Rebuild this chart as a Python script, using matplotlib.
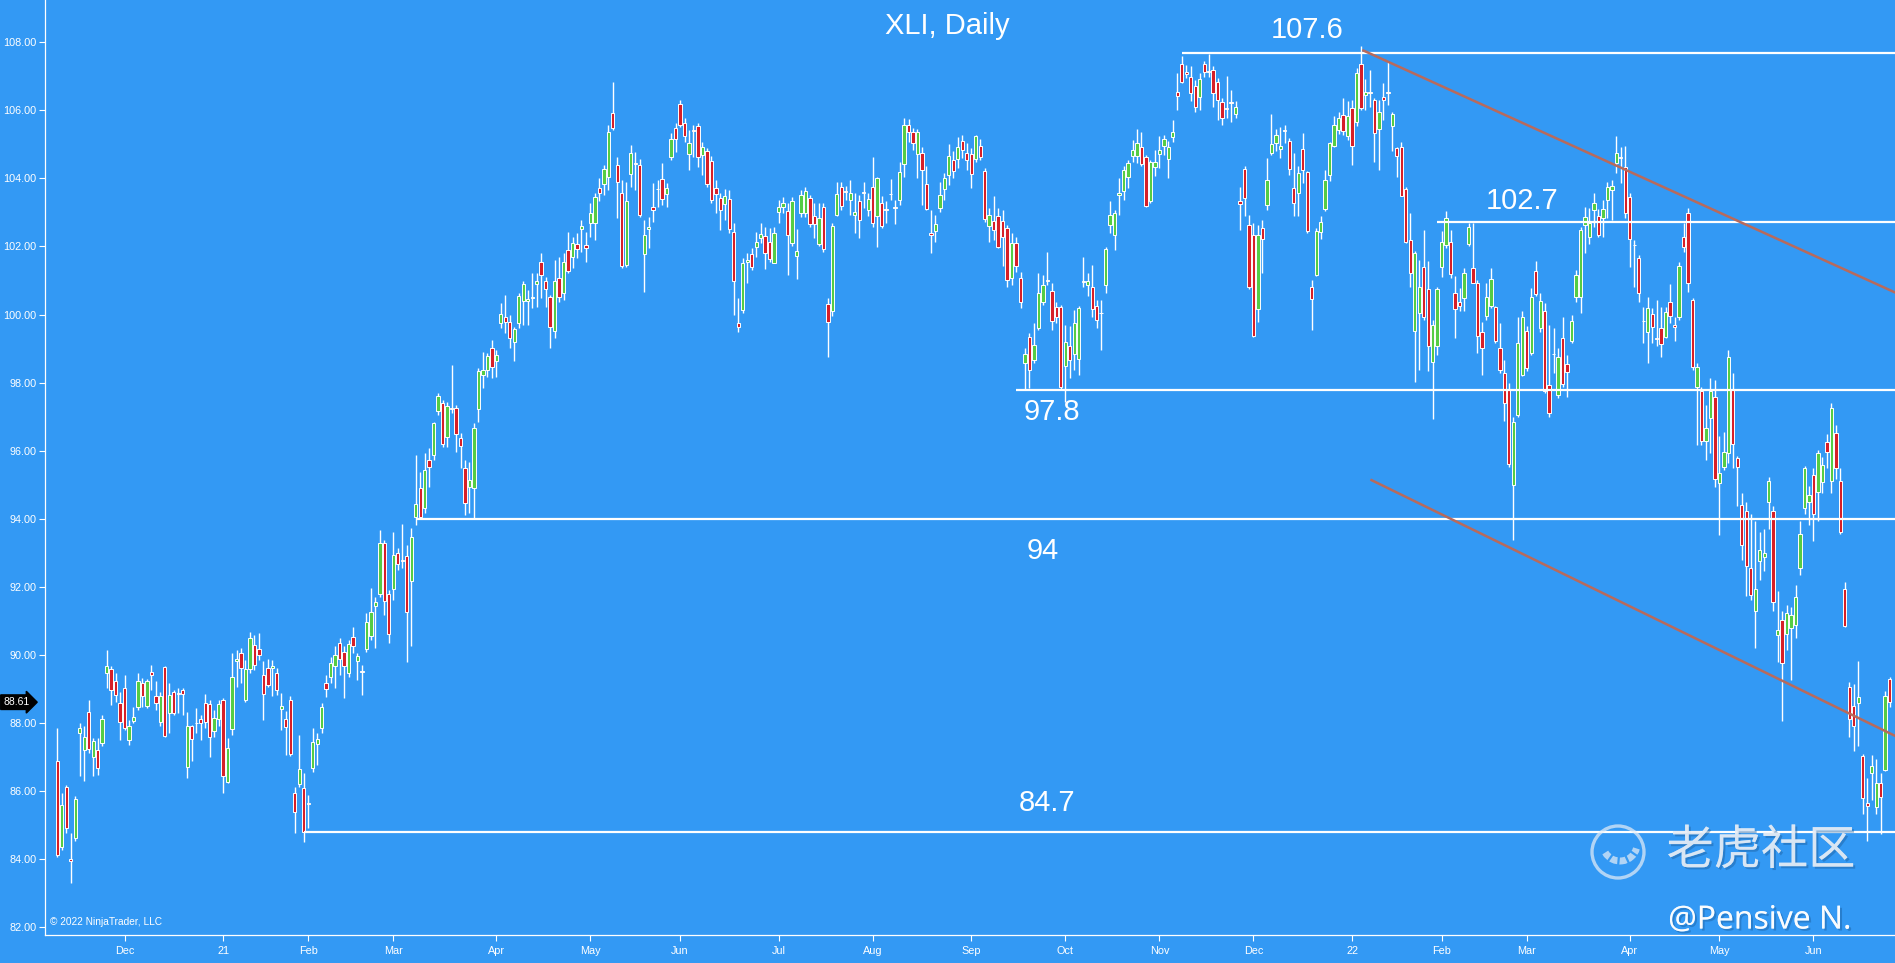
import numpy as np
import pandas as pd
import matplotlib
matplotlib.use("Agg")
import matplotlib.pyplot as plt
import matplotlib.transforms as mtransforms
import matplotlib.patheffects as pe
from matplotlib.patches import Circle, Arc

# XLI daily candles, 2020-11-09 .. 2022-06-27
opens = [
    86.87, 84.37, 86.13, 84.00, 84.62, 87.70, 87.21, 88.31, 87.01, 87.21,
    87.41, 89.46, 89.58, 89.22, 88.60, 89.02, 87.50, 88.06, 88.46, 89.17,
    88.50, 89.51, 88.78, 88.04, 89.64, 88.29, 88.92, 88.88, 88.97, 86.72,
    87.90, 87.99, 88.11, 88.58, 88.56, 87.75, 88.11, 88.68, 86.26, 87.82,
    89.81, 90.05, 88.68, 89.58, 90.30, 90.17, 89.41, 89.61, 89.61, 89.46,
    88.40, 88.11, 88.68, 85.94, 86.21, 86.08, 85.66, 86.67, 87.39, 87.84,
    89.17, 89.34, 89.68, 90.36, 90.07, 89.48, 90.52, 89.82, 89.53, 90.17,
    90.54, 91.44, 91.79, 93.28, 91.78, 91.93, 93.00, 92.79, 92.91, 92.18,
    94.06, 94.89, 94.31, 95.73, 95.87, 97.17, 97.41, 96.39, 97.26, 97.26,
    96.36, 95.48, 94.92, 94.89, 97.21, 98.22, 98.37, 99.01, 98.63, 99.76,
    99.92, 99.79, 99.18, 99.74, 100.41, 100.41, 100.48, 100.90, 101.53, 100.99,
    100.50, 99.53, 101.06, 100.62, 101.90, 101.70, 102.07, 102.50, 102.04, 102.70,
    102.68, 103.71, 103.83, 104.03, 105.93, 104.39, 103.58, 101.45, 104.13, 104.46,
    104.39, 101.78, 102.52, 103.15, 103.70, 103.97, 103.54, 104.64, 105.47, 106.18,
    105.64, 104.72, 105.41, 105.55, 104.69, 104.81, 104.51, 103.71, 103.41, 103.25,
    103.38, 102.43, 99.74, 100.13, 101.55, 101.78, 101.97, 102.24, 102.31, 102.14,
    101.52, 103.02, 103.17, 103.05, 102.09, 101.72, 102.97, 102.97, 103.41, 102.90,
    102.07, 103.17, 100.30, 100.09, 102.93, 103.76, 103.62, 103.35, 102.93, 103.32,
    103.59, 103.07, 103.76, 102.88, 103.29, 103.10, 103.55, 103.15, 103.35, 104.42,
    105.57, 105.35, 104.72, 104.74, 103.84, 102.39, 102.44, 103.12, 103.68, 104.10,
    104.54, 104.56, 105.11, 104.74, 104.72, 104.56, 104.95, 104.23, 102.60, 102.76,
    102.89, 102.76, 102.53, 101.07, 102.11, 101.07, 98.57, 99.35, 98.67, 99.60,
    100.38, 101.00, 100.68, 100.23, 100.21, 98.49, 99.06, 98.84, 98.69, 100.98,
    100.87, 100.82, 100.25, 100.05, 100.87, 102.63, 102.34, 103.51, 103.64, 104.05,
    104.66, 104.66, 104.91, 104.62, 103.32, 104.33, 104.72, 104.95, 104.56, 105.21,
    106.55, 107.36, 107.11, 106.97, 106.72, 106.38, 107.36, 107.15, 107.17, 106.84,
    106.23, 106.07, 106.24, 105.89, 103.34, 104.27, 102.63, 102.34, 100.16, 102.53,
    103.22, 104.74, 105.05, 104.86, 105.41, 105.11, 103.71, 103.56, 104.86, 104.20,
    100.82, 101.17, 102.41, 103.09, 104.10, 104.95, 105.42, 105.87, 105.23, 106.06,
    105.67, 107.36, 106.45, 106.55, 106.29, 105.44, 106.38, 106.55, 105.54, 104.88,
    104.93, 103.68, 102.19, 99.53, 100.04, 101.39, 100.74, 98.59, 99.06, 101.39,
    102.05, 102.14, 100.63, 100.38, 100.48, 102.08, 101.36, 100.94, 99.50, 99.96,
    100.24, 100.22, 99.01, 98.28, 97.81, 95.00, 97.05, 98.23, 99.53, 98.88,
    101.27, 99.60, 100.09, 97.93, 98.85, 97.64, 99.30, 98.55, 99.21, 100.51,
    100.51, 102.63, 102.29, 103.07, 102.88, 102.83, 103.35, 103.66, 104.44, 104.63,
    104.33, 103.45, 102.05, 101.65, 99.82, 99.50, 100.02, 99.31, 99.60, 99.35,
    100.38, 99.68, 99.94, 102.29, 102.98, 100.43, 97.86, 97.74, 96.27, 96.95,
    97.59, 95.06, 95.53, 95.92, 97.80, 95.78, 94.41, 94.22, 92.54, 91.30,
    92.77, 92.88, 94.50, 94.24, 90.59, 91.01, 90.62, 90.80, 90.88, 92.54,
    94.32, 94.50, 95.29, 94.79, 95.08, 96.25, 95.10, 96.53, 95.10, 91.95,
    89.05, 88.49, 88.59, 87.02, 85.66, 86.53, 85.53, 86.24, 86.63, 89.29,
]
highs = [
    87.85, 85.94, 86.18, 84.76, 85.84, 87.99, 87.90, 88.68, 87.55, 87.55,
    88.24, 90.15, 89.66, 89.46, 88.92, 89.41, 88.09, 88.48, 89.46, 89.32,
    89.29, 89.71, 89.22, 88.92, 89.68, 89.17, 88.97, 89.02, 89.02, 88.31,
    87.95, 88.43, 88.24, 88.86, 88.68, 88.39, 88.68, 88.73, 87.55, 90.05,
    90.15, 90.20, 89.86, 90.66, 90.59, 90.64, 89.81, 89.87, 89.85, 89.61,
    88.87, 88.34, 88.78, 86.13, 87.65, 86.52, 85.89, 87.85, 87.70, 88.60,
    89.41, 89.95, 90.25, 90.49, 90.25, 90.44, 90.83, 90.05, 89.70, 91.22,
    91.96, 91.71, 93.67, 93.38, 91.91, 93.62, 93.13, 93.85, 93.23, 93.72,
    95.87, 95.38, 95.92, 96.07, 96.85, 97.69, 97.49, 97.44, 98.52, 97.34,
    96.51, 95.73, 95.68, 96.80, 98.42, 98.91, 98.88, 99.25, 98.96, 100.35,
    100.57, 99.99, 99.64, 100.62, 100.97, 100.72, 101.21, 101.23, 101.80, 101.11,
    100.57, 101.60, 101.70, 101.80, 102.41, 102.29, 102.39, 102.78, 102.43, 103.27,
    103.56, 104.00, 104.39, 105.57, 106.84, 104.64, 103.95, 103.90, 104.98, 104.78,
    104.56, 102.78, 102.87, 103.85, 103.95, 104.46, 103.85, 105.32, 105.62, 106.30,
    105.76, 105.42, 105.57, 105.62, 105.08, 104.88, 104.66, 103.95, 103.56, 103.68,
    103.66, 102.68, 100.48, 101.65, 101.82, 101.94, 102.43, 102.70, 102.58, 102.53,
    102.58, 103.37, 103.46, 103.27, 103.46, 102.50, 103.66, 103.74, 103.51, 103.27,
    103.27, 103.27, 100.48, 102.70, 103.90, 103.90, 103.78, 103.94, 103.56, 103.51,
    103.88, 103.56, 104.64, 104.05, 103.47, 103.32, 103.97, 103.37, 104.49, 105.77,
    105.74, 105.47, 105.44, 104.93, 104.37, 103.07, 102.93, 103.90, 104.15, 105.01,
    104.79, 105.21, 105.28, 105.03, 104.89, 105.28, 105.15, 104.30, 103.12, 103.47,
    103.12, 103.07, 102.63, 102.39, 102.29, 101.26, 99.01, 99.45, 99.74, 101.21,
    101.16, 101.85, 100.94, 100.38, 100.28, 99.70, 99.65, 100.14, 100.25, 101.70,
    101.21, 101.46, 100.43, 100.43, 101.99, 103.32, 103.07, 104.00, 104.35, 104.54,
    105.13, 105.44, 105.37, 104.69, 104.54, 104.84, 105.23, 105.28, 105.11, 105.72,
    107.09, 107.60, 107.33, 107.30, 106.89, 107.09, 107.46, 107.66, 107.29, 106.94,
    106.35, 107.01, 106.60, 106.26, 103.76, 104.35, 102.93, 102.70, 102.63, 102.78,
    104.59, 105.89, 105.44, 105.50, 105.57, 105.18, 104.74, 104.37, 105.33, 104.23,
    101.00, 102.54, 102.88, 104.25, 105.08, 105.84, 105.96, 106.35, 106.26, 106.31,
    107.24, 107.89, 106.91, 107.19, 106.35, 106.31, 106.81, 107.43, 105.96, 104.93,
    105.08, 103.76, 102.98, 101.88, 101.60, 102.49, 101.56, 99.84, 100.82, 102.44,
    103.05, 102.49, 101.12, 100.77, 101.36, 102.70, 102.70, 101.02, 99.79, 100.92,
    101.36, 100.24, 99.74, 98.67, 97.98, 97.00, 99.94, 100.09, 99.65, 100.77,
    101.56, 100.63, 100.33, 99.70, 99.60, 99.01, 99.94, 98.81, 99.99, 101.31,
    102.58, 103.17, 103.12, 103.56, 103.09, 103.35, 103.88, 103.95, 105.23, 104.93,
    104.95, 103.56, 102.19, 101.75, 100.23, 100.51, 100.18, 100.43, 100.23, 100.23,
    100.90, 99.94, 101.55, 102.68, 103.12, 100.48, 98.57, 97.88, 97.34, 98.13,
    98.08, 96.42, 96.56, 98.96, 98.27, 95.83, 94.75, 94.50, 94.14, 93.93,
    93.61, 93.71, 95.24, 94.37, 91.88, 91.30, 91.46, 91.41, 92.04, 93.92,
    95.55, 94.97, 95.50, 96.02, 95.81, 96.50, 97.39, 96.76, 95.50, 92.14,
    89.20, 89.15, 89.81, 87.10, 86.39, 87.05, 86.95, 86.53, 88.94, 89.36,
]
lows = [
    84.06, 84.27, 84.76, 83.29, 84.52, 86.43, 86.28, 87.11, 86.43, 86.48,
    87.31, 89.02, 88.53, 88.63, 87.50, 87.80, 87.36, 87.99, 88.39, 88.48,
    88.43, 88.97, 88.39, 87.90, 87.58, 87.70, 88.24, 88.29, 88.24, 86.38,
    86.87, 87.70, 87.50, 87.85, 87.01, 87.60, 87.90, 85.94, 86.23, 87.65,
    89.07, 89.17, 88.63, 89.46, 89.56, 89.86, 88.09, 89.07, 88.78, 88.82,
    87.80, 87.06, 87.03, 84.76, 86.13, 84.49, 84.91, 86.57, 86.77, 87.70,
    88.76, 89.17, 89.02, 89.41, 88.73, 89.36, 90.05, 89.27, 88.82, 90.07,
    90.44, 90.20, 91.71, 91.18, 90.34, 91.62, 92.50, 92.55, 89.80, 90.25,
    93.82, 94.01, 94.16, 94.94, 95.73, 97.05, 96.12, 96.12, 97.10, 95.97,
    95.48, 94.11, 94.16, 94.01, 96.85, 97.83, 98.17, 98.13, 98.17, 99.59,
    99.45, 99.01, 98.62, 99.59, 99.69, 99.69, 100.18, 100.23, 100.48, 100.23,
    99.01, 99.30, 100.38, 100.43, 101.21, 101.36, 101.65, 101.85, 101.55, 102.29,
    102.19, 103.32, 103.51, 103.66, 105.42, 102.83, 101.36, 101.40, 103.76, 103.66,
    102.87, 100.67, 101.94, 102.73, 103.17, 103.22, 103.17, 104.54, 104.78, 105.52,
    105.08, 104.25, 104.64, 104.34, 104.10, 103.76, 103.27, 102.97, 102.48, 102.78,
    102.40, 99.99, 99.50, 100.04, 100.92, 101.31, 101.70, 102.09, 101.33, 101.55,
    101.50, 102.68, 102.97, 101.16, 102.00, 101.03, 102.87, 102.87, 102.58, 102.24,
    102.00, 101.85, 98.76, 99.96, 102.88, 103.07, 103.37, 102.93, 102.39, 102.24,
    103.12, 102.88, 102.58, 101.99, 102.53, 102.68, 103.37, 102.66, 103.22, 104.05,
    105.08, 104.84, 104.00, 103.22, 103.07, 101.80, 102.14, 103.02, 103.37, 103.81,
    104.00, 104.30, 104.59, 104.25, 103.71, 104.49, 104.54, 102.73, 102.14, 102.19,
    101.95, 101.43, 100.82, 100.87, 101.26, 100.19, 97.79, 97.83, 98.57, 99.55,
    100.28, 100.87, 99.55, 99.74, 97.79, 97.44, 98.13, 98.37, 98.23, 100.82,
    100.53, 99.94, 99.60, 98.96, 100.62, 102.39, 101.90, 102.93, 103.37, 103.71,
    104.49, 104.44, 104.35, 103.15, 103.27, 104.07, 104.30, 104.69, 104.00, 105.08,
    106.01, 106.80, 106.94, 106.26, 105.96, 106.01, 106.99, 106.99, 106.11, 105.72,
    105.57, 105.77, 105.67, 105.77, 102.49, 102.88, 100.74, 99.35, 99.79, 101.21,
    103.07, 104.69, 104.79, 104.59, 105.03, 104.10, 102.88, 102.88, 103.86, 102.39,
    99.55, 101.14, 102.21, 103.05, 103.91, 104.91, 105.31, 105.28, 105.13, 104.40,
    105.54, 106.01, 106.01, 106.11, 104.49, 104.25, 105.72, 106.16, 104.79, 104.05,
    103.47, 102.10, 100.82, 98.03, 98.37, 99.84, 98.33, 96.93, 98.81, 101.10,
    101.95, 101.07, 99.31, 100.09, 100.09, 102.00, 100.92, 98.86, 98.23, 99.84,
    100.19, 99.16, 98.28, 96.86, 95.51, 93.37, 97.00, 98.18, 98.33, 98.81,
    100.53, 99.50, 97.69, 97.00, 98.28, 97.54, 97.88, 97.59, 99.16, 100.38,
    100.04, 101.80, 102.07, 102.58, 102.27, 102.29, 102.83, 102.78, 104.15, 103.86,
    102.83, 101.41, 100.82, 100.38, 99.16, 98.57, 99.16, 99.06, 98.74, 99.30,
    99.74, 99.21, 99.84, 101.85, 100.67, 98.37, 96.17, 96.17, 95.73, 95.92,
    94.94, 93.53, 95.43, 95.63, 95.48, 94.36, 92.79, 91.72, 91.62, 90.20,
    92.19, 92.46, 93.71, 91.30, 89.78, 88.05, 90.15, 89.26, 90.51, 92.35,
    94.13, 93.82, 93.35, 93.93, 94.76, 95.50, 94.76, 95.18, 93.56, 90.83,
    87.58, 87.19, 87.31, 85.32, 84.54, 85.74, 85.32, 84.74, 86.58, 88.47,
]
closes = [
    84.13, 85.60, 84.91, 83.93, 85.77, 87.85, 87.60, 87.23, 87.46, 86.67,
    88.11, 89.66, 88.97, 88.83, 88.04, 87.85, 87.92, 88.17, 89.22, 88.80,
    89.22, 89.41, 88.58, 88.78, 87.62, 88.83, 88.29, 88.84, 88.86, 87.92,
    87.53, 88.01, 87.99, 88.04, 87.60, 88.14, 88.56, 86.43, 87.26, 89.35,
    89.87, 89.61, 89.58, 90.49, 89.71, 90.00, 88.86, 89.12, 89.68, 88.97,
    88.51, 87.89, 87.09, 85.37, 86.64, 84.81, 85.62, 87.45, 87.52, 88.46,
    88.99, 89.76, 90.00, 89.87, 89.68, 90.32, 90.25, 89.97, 89.49, 90.98,
    91.27, 91.54, 93.28, 91.59, 90.61, 92.94, 92.67, 92.75, 91.27, 93.46,
    94.42, 94.06, 95.43, 95.51, 96.80, 97.61, 96.20, 97.31, 97.21, 96.49,
    96.14, 94.45, 95.14, 96.66, 98.34, 98.37, 98.78, 98.47, 98.81, 100.02,
    99.79, 99.30, 99.56, 100.54, 100.90, 100.45, 100.52, 100.97, 101.16, 100.74,
    99.63, 100.97, 100.51, 101.55, 101.29, 102.11, 101.92, 102.61, 101.94, 102.99,
    103.44, 103.56, 104.27, 105.37, 105.47, 103.90, 101.43, 103.32, 104.74, 104.42,
    102.92, 102.34, 102.56, 103.07, 103.68, 103.38, 103.71, 105.15, 105.15, 105.57,
    105.23, 105.05, 105.39, 104.62, 104.91, 103.83, 103.35, 103.54, 103.07, 103.48,
    102.50, 100.97, 99.62, 101.50, 101.59, 101.39, 102.14, 102.37, 101.82, 101.62,
    102.40, 103.15, 103.29, 102.34, 103.32, 101.88, 103.51, 103.64, 102.66, 102.66,
    102.83, 101.92, 99.79, 102.60, 103.54, 103.19, 103.60, 103.56, 103.00, 102.78,
    103.57, 103.39, 102.68, 104.00, 102.60, 103.08, 103.53, 103.13, 104.20, 105.57,
    105.37, 105.05, 105.37, 104.25, 103.09, 102.35, 102.66, 103.51, 104.00, 104.66,
    104.23, 104.91, 104.84, 104.54, 104.13, 105.23, 104.62, 102.80, 102.93, 102.47,
    101.99, 102.27, 101.02, 102.11, 101.43, 100.38, 98.84, 98.37, 99.11, 100.64,
    100.87, 100.98, 99.82, 99.92, 97.86, 99.18, 98.67, 99.74, 100.18, 100.96,
    100.97, 100.16, 99.84, 100.03, 101.92, 102.93, 102.97, 103.58, 104.25, 104.44,
    104.84, 105.05, 104.42, 103.19, 104.49, 104.49, 104.82, 105.15, 104.91, 105.37,
    106.42, 106.84, 107.07, 106.52, 106.09, 106.91, 107.11, 107.13, 106.50, 106.29,
    105.77, 106.05, 106.22, 106.09, 103.25, 103.42, 100.80, 99.37, 102.34, 102.21,
    103.96, 105.01, 105.28, 104.95, 105.39, 104.27, 103.29, 104.17, 104.25, 102.44,
    100.45, 102.44, 102.73, 103.96, 105.03, 105.57, 105.77, 105.38, 105.82, 104.95,
    107.09, 106.06, 106.55, 106.50, 105.33, 105.96, 106.30, 106.50, 105.89, 104.66,
    103.49, 102.14, 101.21, 101.80, 100.80, 99.92, 99.06, 99.70, 100.74, 102.14,
    102.83, 101.19, 100.16, 100.24, 101.21, 102.58, 100.94, 99.37, 99.01, 100.51,
    101.04, 99.21, 98.37, 97.41, 95.61, 96.83, 99.16, 99.94, 98.42, 100.51,
    100.61, 100.41, 97.74, 97.12, 98.83, 98.75, 97.96, 98.30, 99.82, 101.16,
    102.49, 102.86, 102.70, 103.29, 102.34, 103.09, 103.74, 103.78, 104.74, 104.61,
    102.99, 102.21, 102.03, 100.62, 99.80, 100.18, 99.64, 99.29, 99.14, 100.06,
    99.96, 99.62, 101.43, 101.98, 100.92, 98.45, 98.45, 96.27, 96.66, 97.74,
    95.16, 95.34, 95.97, 98.76, 96.20, 95.53, 93.23, 92.61, 91.77, 91.93,
    93.09, 92.98, 95.10, 91.56, 90.73, 89.75, 91.22, 91.18, 91.70, 93.56,
    95.50, 94.71, 94.13, 95.92, 95.58, 95.97, 97.26, 95.50, 93.61, 90.86,
    88.13, 87.92, 88.76, 85.79, 85.55, 86.74, 86.24, 85.82, 88.80, 88.61,
]

holidays = ["2020-11-26", "2020-12-25", "2021-01-01", "2021-01-18", "2021-02-15",
            "2021-04-02", "2021-05-31", "2021-07-05", "2021-09-06", "2021-11-25",
            "2021-12-24", "2022-01-17", "2022-02-21", "2022-04-15", "2022-05-30",
            "2022-06-20"]
dates = pd.bdate_range("2020-11-09", "2022-06-27", freq="C", holidays=holidays)

# drawn levels: price, label, first bar, label position (bar, price)
levels = [107.67, 102.73, 97.79, 93.98, 84.81]
level_labels = ["107.6", "102.7", "97.8", "94", "84.7"]
level_start = [251, 308, 214, 80, 55]
label_x = [279, 327, 222, 220, 221]
label_y = [108.36, 103.33, 97.13, 93.05, 85.66]

# channel lines (bar, price) endpoints
upper_x, upper_y = [291.3, 411], [107.77, 100.60]
lower_x, lower_y = [293.1, 411], [95.15, 87.57]

last_price = 88.61

bg = "#3399f4"
green = "#55cc45"
red = "#d61f28"
trend_col = "#b86a5c"

O = np.array(opens)
H = np.array(highs)
L = np.array(lows)
C = np.array(closes)
n = len(C)
x = np.arange(n)

fig = plt.figure(figsize=(18.95, 9.63), dpi=100, facecolor=bg)
ax = fig.add_axes([45 / 1895, 28 / 963, 1850 / 1895, 935 / 963])
ax.set_facecolor(bg)

ax.vlines(x, L, H, color="white", lw=1.0, zorder=2)
body_col = np.where(C >= O, green, red)
ax.bar(x, np.abs(C - O), bottom=np.minimum(O, C), width=0.74, color=body_col,
       edgecolor="white", linewidth=0.7, zorder=3)

for lv, st in zip(levels, level_start):
    ax.hlines(lv, st, n + 1, color="white", lw=1.6, zorder=4)
for t, lx, ly in zip(level_labels, label_x, label_y):
    ax.text(lx, ly, t, color="white", fontsize=21, family="Liberation Sans",
            ha="center", va="center", zorder=5)

ax.plot(upper_x, upper_y, color=trend_col, lw=1.8, zorder=4, solid_capstyle="butt")
ax.plot(lower_x, lower_y, color=trend_col, lw=1.8, zorder=4, solid_capstyle="butt")

ax.set_xlim(-2.75, 410.2)
ax.set_ylim(81.77, 109.24)

# month ticks at the first bar of each month
month_first = [i for i in range(1, n) if dates[i].month != dates[i - 1].month]
month_lbl = [dates[i].strftime("%y") if dates[i].month == 1 else dates[i].strftime("%b")
             for i in month_first]
ax.set_xticks(month_first)
ax.set_xticklabels(month_lbl)
ax.set_yticks(np.arange(82, 109, 2))
ax.set_yticklabels([f"{v:.2f}" for v in np.arange(82, 109, 2)])
ax.tick_params(axis="both", colors="white", labelsize=7.8, length=4, width=0.8)
ax.tick_params(axis="x", pad=4)
ax.tick_params(axis="y", pad=2)
for lab in ax.get_xticklabels() + ax.get_yticklabels():
    lab.set_family("Liberation Sans")
for s in ["top", "right"]:
    ax.spines[s].set_visible(False)
for s in ["left", "bottom"]:
    ax.spines[s].set_color("white")
    ax.spines[s].set_linewidth(0.9)

# last price tag
blend = mtransforms.blended_transform_factory(ax.transAxes, ax.transData)
ax.text(-0.0085, last_price, f"{last_price:.2f}", transform=blend, color="white",
        fontsize=7.5, family="Liberation Sans", ha="right", va="center", clip_on=False,
        bbox=dict(boxstyle="rarrow,pad=0.22", fc="black", ec="black"))

ax.text(0.0027, 0.014, "\u00a9 2022 NinjaTrader, LLC", transform=ax.transAxes,
        color="white", fontsize=7.3, family="Liberation Sans", va="center", ha="left")

fig.text(0.5, 1 - 26 / 963, "XLI, Daily", color="white", fontsize=21,
         family="Liberation Sans", ha="center", va="center")

# watermark
ov = fig.add_axes([0, 0, 1, 1], facecolor="none")
ov.set_xlim(0, 1895)
ov.set_ylim(963, 0)
ov.axis("off")
shadow = [pe.withSimplePatchShadow(offset=(1.5, -1.5), shadow_rgbFace="#1c5f9e", alpha=0.45),
          pe.Normal()]
ov.text(1761, 851, "老虎社区", color="#e8eef6", alpha=0.72, fontsize=34,
        family=["Noto Sans CJK SC", "DejaVu Sans"], weight="medium",
        ha="center", va="center", path_effects=shadow)
ov.text(1760, 920, "@Pensive N.", color="white", alpha=0.85, fontsize=23,
        family="Open Sans", ha="center", va="center", path_effects=shadow)
ov.add_patch(Circle((1618, 852), 26, fill=False, ec="#e8eef6", lw=2.4, alpha=0.7))
ov.add_patch(Arc((1620, 844), 34, 34, theta1=15, theta2=150, ec="#e8eef6", lw=5, alpha=0.7))
for k in range(4):
    ang = np.deg2rad(35 + k * 30)
    ov.plot([1620 + 13 * np.cos(ang), 1620 + 20 * np.cos(ang)],
            [844 + 13 * np.sin(ang), 844 + 20 * np.sin(ang)],
            color=bg, lw=1.6)

fig.savefig("out.png", dpi=100, facecolor=bg)
